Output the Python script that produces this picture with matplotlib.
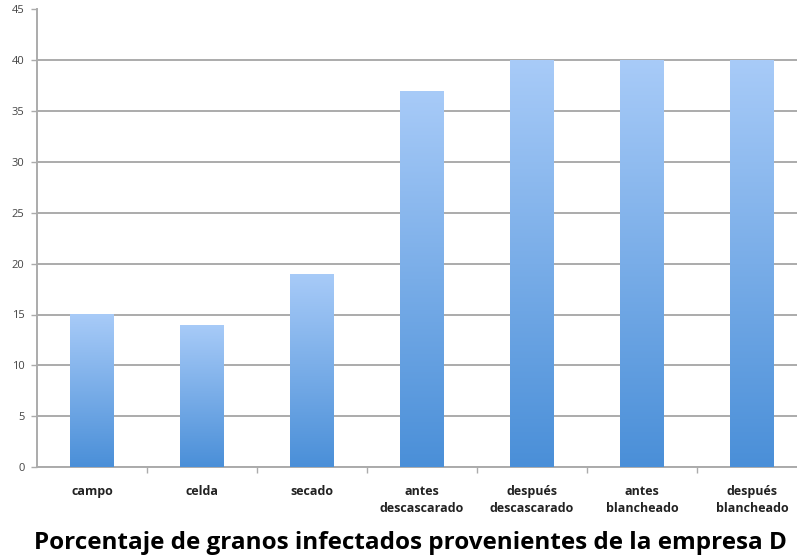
import numpy as np
import matplotlib.pyplot as plt
from matplotlib.colors import LinearSegmentedColormap

categories = ["campo", "celda", "secado", "antes\ndescascarado", "después\ndescascarado",
              "antes\nblancheado", "después\nblancheado"]
values = [15, 14, 19, 37, 40, 40, 40]
yticks = [0, 5, 10, 15, 20, 25, 30, 35, 40, 45]
title = "Porcentaje de granos infectados provenientes de la empresa D"

plt.rcParams['font.family'] = ['Open Sans', 'DejaVu Sans']

fig = plt.figure(figsize=(7.97, 5.55), dpi=100)
ax = fig.add_axes([37 / 797, 1 - 467 / 555, 770 / 797, 457.5 / 555])

x = np.arange(len(categories))
bar_w = 0.4
bars = ax.bar(x, values, width=bar_w, color="none", edgecolor="none", zorder=3)

# vertical gradient: darker blue at the base, lighter blue at the top
cmap = LinearSegmentedColormap.from_list("barblue", ["#4a8fd8", "#a8cbf8"])
grad = np.linspace(0, 1, 256).reshape(-1, 1)
for b in bars:
    x0, y0 = b.get_x(), b.get_y()
    w, h = b.get_width(), b.get_height()
    im = ax.imshow(grad, extent=[x0, x0 + w, y0, y0 + h], origin="lower",
                   cmap=cmap, aspect="auto", zorder=3, interpolation="bilinear")
    im.set_clip_path(b)

ax.set_xlim(-0.5, len(categories) - 0.5)
ax.set_ylim(0, 45)
ax.set_yticks(yticks)
ax.set_yticklabels([str(t) for t in yticks], fontsize=8, color="#444444")
ax.yaxis.grid(True, color="#ababab", linewidth=1.4, zorder=0)
ax.set_axisbelow(True)

ax.set_xticks(x)
ax.set_xticklabels(categories, fontsize=9, fontweight="bold", color="#222222",
                   linespacing=1.35)
ax.tick_params(axis="x", length=0, pad=13)
ax.set_xticks(np.arange(0.5, len(categories) - 0.5, 1), minor=True)
ax.tick_params(axis="x", which="minor", length=4, color="#ababab", width=1)
ax.tick_params(axis="y", length=4, color="#ababab", width=1, pad=5)

for s in ["top", "right"]:
    ax.spines[s].set_visible(False)
for s in ["left", "bottom"]:
    ax.spines[s].set_color("#ababab")
    ax.spines[s].set_linewidth(1.4)

fig.text(410 / 797, 1 - 549 / 555, title, ha="center", va="baseline",
         fontsize=17.5, fontweight="bold", color="#000000")

fig.savefig("out.png", dpi=100)
